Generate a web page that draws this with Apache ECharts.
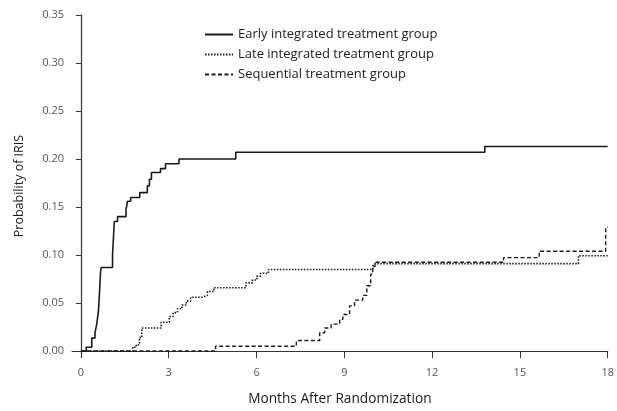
<!DOCTYPE html>
<html>
<head>
<meta charset="utf-8">
<script src="https://cdn.jsdelivr.net/npm/echarts@6/dist/echarts.min.js"></script>
<style>
html,body{margin:0;padding:0;background:#fff;}
#chart{width:617px;height:411px;}
</style>
</head>
<body>
<div id="chart"></div>
<script>
const seriesNames = ['Early integrated treatment group', 'Late integrated treatment group', 'Sequential treatment group'];
const xTicks = [0, 3, 6, 9, 12, 15, 18];
const yTicks = [0, 0.05, 0.10, 0.15, 0.20, 0.25, 0.30, 0.35];

const earlyData = [[0,0],[0.18,0.004],[0.37,0.0135],[0.48,0.019],[0.54,0.028],[0.6,0.042],[0.64,0.064],[0.67,0.082],[0.69,0.087],[1.08,0.1],[1.14,0.135],[1.25,0.14],[1.54,0.147],[1.59,0.156],[1.7,0.16],[2.01,0.165],[2.27,0.172],[2.34,0.179],[2.41,0.186],[2.72,0.19],[2.89,0.195],[3.35,0.2],[5.29,0.207],[13.8,0.213],[18,0.213]];

const lateData = [[0,0],[1.77,0.004],[1.89,0.0065],[2.0,0.014],[2.08,0.024],[2.74,0.03],[3.02,0.036],[3.15,0.04],[3.3,0.044],[3.45,0.048],[3.6,0.052],[3.75,0.056],[4.15,0.058],[4.32,0.062],[4.54,0.066],[5.64,0.071],[5.86,0.074],[6.01,0.078],[6.14,0.081],[6.41,0.085],[9.97,0.0885],[10.03,0.091],[17.0,0.0993],[18,0.0993]];

const seqData = [[0,0],[4.6,0.005],[7.36,0.011],[8.16,0.019],[8.33,0.024],[8.55,0.028],[8.84,0.033],[8.95,0.038],[9.18,0.047],[9.35,0.053],[9.63,0.058],[9.77,0.068],[9.9,0.08],[9.97,0.088],[10.05,0.0925],[14.44,0.0973],[15.66,0.104],[17.93,0.129],[18,0.129]];

const chart = echarts.init(document.getElementById('chart'));
const FONT = 'Open Sans';
chart.setOption({
  animation: false,
  backgroundColor: '#fff',
  textStyle: { fontFamily: FONT },
  grid: { left: 72, right: 5, top: 15, bottom: 53, containLabel: false },
  legend: {
    orient: 'vertical',
    left: 199,
    top: 23,
    itemWidth: 28,
    itemHeight: 10,
    itemGap: 7,
    itemStyle: { opacity: 0 },
    textStyle: { fontFamily: FONT, fontSize: 13, color: '#1a1a1a' },
    data: seriesNames
  },
  xAxis: {
    type: 'value',
    min: -0.305,
    max: 18,
    name: 'Months After Randomization',
    nameLocation: 'middle',
    nameGap: 35,
    nameTextStyle: { fontFamily: FONT, fontSize: 13.7, color: '#1a1a1a' },
    axisLine: { show: true, lineStyle: { color: '#333', width: 1.2 } },
    axisTick: { show: true, length: 7, customValues: xTicks, lineStyle: { color: '#333' } },
    axisLabel: { customValues: xTicks, fontSize: 11, color: '#555', margin: 10, fontFamily: FONT },
    splitLine: { show: false }
  },
  yAxis: {
    type: 'value',
    min: -0.0062,
    max: 0.35,
    name: 'Probability of IRIS',
    nameLocation: 'middle',
    nameGap: 46,
    nameTextStyle: { fontFamily: FONT, fontSize: 12.5, color: '#1a1a1a' },
    axisLine: { show: true, lineStyle: { color: '#333', width: 1.2 } },
    axisTick: { show: true, length: 5, customValues: yTicks, lineStyle: { color: '#333' } },
    axisLabel: { customValues: yTicks, fontSize: 11, color: '#555', margin: 8, fontFamily: FONT,
      formatter: function (v) { return v.toFixed(2); } },
    splitLine: { show: false }
  },
  series: [
    { name: seriesNames[0], type: 'line', step: 'end', symbol: 'none', data: earlyData,
      lineStyle: { color: '#1a1a1a', width: 1.6, type: 'solid' }, itemStyle: { color: '#1a1a1a' } },
    { name: seriesNames[1], type: 'line', step: 'end', symbol: 'none', data: lateData,
      lineStyle: { color: '#1a1a1a', width: 1.6, type: [1.5, 1.5] }, itemStyle: { color: '#1a1a1a' } },
    { name: seriesNames[2], type: 'line', step: 'end', symbol: 'none', data: seqData,
      lineStyle: { color: '#1a1a1a', width: 1.4, type: [4, 2.5] }, itemStyle: { color: '#1a1a1a' } }
  ]
});
</script>
</body>
</html>
